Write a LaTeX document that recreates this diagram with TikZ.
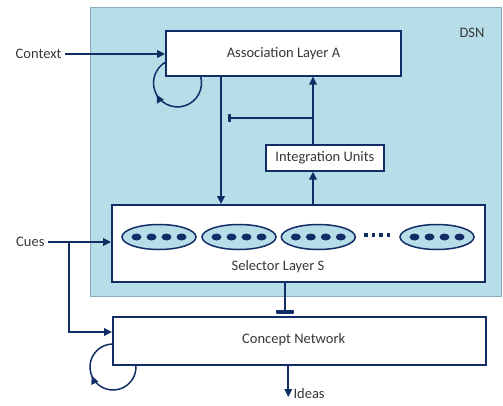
\documentclass[tikz,border=0pt]{standalone}
\usepackage{fontspec}
\setmainfont{Carlito}
\usetikzlibrary{arrows.meta,shapes.geometric,decorations.markings}
\definecolor{navy}{RGB}{18,44,102}
\definecolor{dsnbg}{RGB}{183,221,232}
\definecolor{dsnedge}{RGB}{140,170,185}
\definecolor{txt}{RGB}{55,55,55}
\begin{document}
\begin{tikzpicture}[x=1pt,y=-1pt,
  font=\fontsize{14.5}{17}\selectfont, text=txt,
  dsnbox/.style={rectangle, fill=dsnbg, draw=dsnedge, line width=1pt, inner sep=0pt},
  layer/.style={rectangle, draw=navy, line width=1.8pt, fill=white, inner sep=0pt},
  group/.style={ellipse, draw=navy, line width=1.5pt, fill=dsnbg, inner sep=0pt,
    minimum width=74pt, minimum height=25pt},
  unitdot/.style={ellipse, fill=navy, inner sep=0pt, minimum width=10pt, minimum height=7pt},
  gapdot/.style={rectangle, fill=navy, inner sep=0pt, minimum width=3.5pt, minimum height=4pt},
  conn/.style={draw=navy, line width=1.8pt},
  arr/.style={conn, -{Triangle[length=8pt,width=7.5pt]}},
  selfloop/.style={draw=navy, line width=1.5pt, postaction={decorate},
    decoration={markings, mark=at position #1 with {\arrow{Triangle[length=8pt,width=7.5pt]}}}},
]
\useasboundingbox (0,0) rectangle (503,405);

% DSN region
\node[dsnbox, minimum width=411pt, minimum height=289pt] (dsn) at (295.5,151.5) {};
\node (dsnlabel) at (472,33) {DSN};

% recurrent loops (drawn below the layer boxes)
\draw[selfloop=0.65] (200.4,75.7) arc[start angle=-17.5, end angle=241.4, radius=24];
\draw[selfloop=0.59] (135.9,365) arc[start angle=-5, end angle=270, radius=23];

% layers
\node[layer, minimum width=235pt, minimum height=44.7pt] (assoc) at (283.5,53.3) {Association Layer A};
\node[layer, minimum width=118pt, minimum height=25.7pt] (integ) at (324.9,157.9) {Integration Units};
\node[layer, minimum width=373pt, minimum height=76.7pt] (sel) at (298.5,243.3) {};
\node (sellabel) at (278,267) {Selector Layer S};
\node[layer, minimum width=372.7pt, minimum height=48.3pt] (concept) at (299.3,340.8) {};
\node (conceptlabel) at (293.7,340) {Concept Network};

% selector groups of units
\foreach \cx/\n in {159/1,239/2,318.3/3,437/4} {
  \node[group] (g\n) at (\cx,237) {};
  \foreach \dx [count=\i] in {-22.5,-7.5,7.5,22.5}
    \node[unitdot] (g\n-\i) at (\cx+\dx,237) {};
}
\foreach \x [count=\i] in {366,373.5,381,388.5}
  \node[gapdot] (gap\i) at (\x,235) {};

% inputs and outputs
\node[anchor=east] (ctx) at (65,54) {Context};
\node[anchor=east] (cues) at (48,242) {Cues};
\node[anchor=west] (ideas) at (290,394) {Ideas};

\coordinate (colA) at (221,0);
\coordinate (colI) at (313,0);
\coordinate (colS) at (285,0);
\coordinate (colO) at (288.3,0);
\coordinate (split) at (69,0);
\coordinate (cnIn) at (0,332);
\coordinate (branch) at (313,118);
\coordinate (inhA) at (228,118);
\coordinate (inhC) at (285,313.5);
\coordinate (ideasTip) at (288.3,397);

\draw[arr] (ctx.east) -- (ctx.east -| assoc.west);
\draw[arr] (assoc.south -| colA) -- (sel.north -| colA);
\draw[arr] (sel.north -| colI) -- (integ.south -| colI);
\draw[arr] (integ.north -| colI) -- (assoc.south -| colI);
\draw[conn, -{Rectangle[length=3pt,width=8pt,round]}] (branch) -- (inhA);
\draw[arr] (cues.east) -- (cues.east -| sel.west);
\draw[arr] (cues.east -| split) |- (concept.west |- cnIn);
\draw[conn, -{Rectangle[length=4pt,width=18pt,round]}] (sel.south -| colS) -- (inhC);
\draw[arr] (concept.south -| colO) -- (ideasTip);
\end{tikzpicture}
\end{document}
